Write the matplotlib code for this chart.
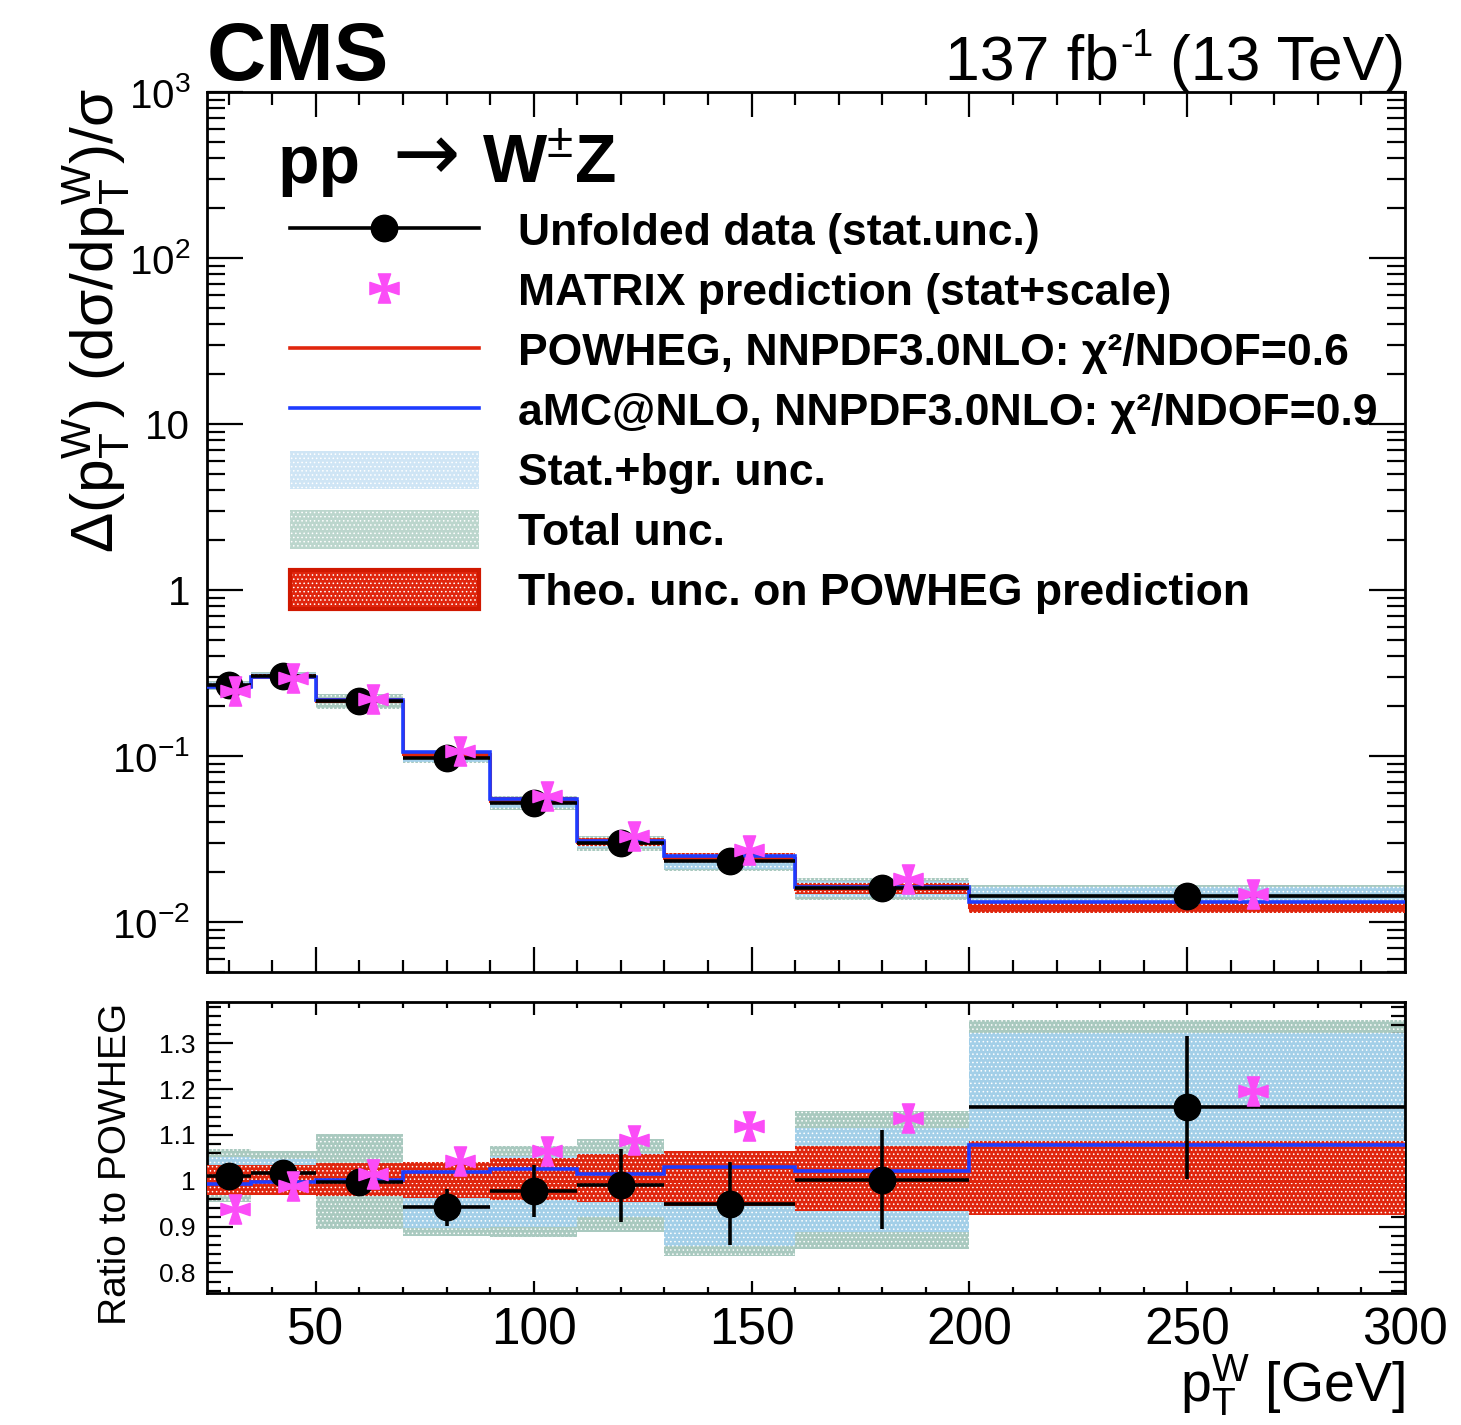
import numpy as np
import matplotlib
matplotlib.use("Agg")
import matplotlib.pyplot as plt
from matplotlib import ticker
from matplotlib.path import Path
from matplotlib.lines import Line2D
from matplotlib.patches import Patch
from matplotlib.legend_handler import HandlerTuple

# Binning in pT(W) [GeV]
bin_edges = [25, 35, 50, 70, 90, 110, 130, 160, 200, 300]

# POWHEG normalised cross section per bin
powheg = [0.264, 0.300, 0.216, 0.103, 0.0537, 0.0302, 0.0244, 0.0159, 0.0123]
# theory uncertainty on POWHEG (relative, up / down)
theo_up = [0.034, 0.034, 0.038, 0.042, 0.050, 0.058, 0.065, 0.075, 0.086]
theo_dn = [0.032, 0.032, 0.034, 0.038, 0.041, 0.047, 0.056, 0.067, 0.074]

# ratios to POWHEG
ratio_data = [1.011, 1.018, 0.998, 0.942, 0.977, 0.990, 0.950, 1.002, 1.160]
ratio_data_stat = [0.010, 0.010, 0.010, 0.040, 0.057, 0.080, 0.090, 0.108, 0.156]
ratio_matrix = [0.939, 0.988, 1.015, 1.043, 1.064, 1.090, 1.120, 1.137, 1.197]
ratio_amc = [0.992, 0.997, 1.002, 1.020, 1.025, 1.015, 1.031, 1.022, 1.077]

# uncertainty bands around the data (ratio units)
unc_stat_bgr = [0.040, 0.030, 0.030, 0.045, 0.077, 0.070, 0.093, 0.113, 0.163]
unc_total = [0.058, 0.047, 0.103, 0.062, 0.099, 0.101, 0.115, 0.151, 0.190]

RED = "#e0260e"
BLUE = "#1e3cff"
MAGENTA = "#fb4cf7"
STAT_COL = "#a3cfe8"
TOT_COL = "#a9c9bf"

plt.rcParams["font.family"] = "Liberation Sans"
plt.rcParams["mathtext.fontset"] = "custom"
plt.rcParams["mathtext.rm"] = "Liberation Sans"
plt.rcParams["mathtext.it"] = "Liberation Sans"
plt.rcParams["mathtext.bf"] = "Liberation Sans:bold"
plt.rcParams["hatch.linewidth"] = 0.6

# maltese-cross marker for MATRIX
c, w = 0.13, 0.42
cross_verts = [(-w, 1), (w, 1), (c, c), (1, w), (1, -w), (c, -c), (w, -1),
               (-w, -1), (-c, -c), (-1, -w), (-1, w), (-c, c), (-w, 1)]
cross_codes = [Path.MOVETO] + [Path.LINETO] * 11 + [Path.CLOSEPOLY]
STAR = Path(cross_verts, cross_codes)

edges = np.array(bin_edges, dtype=float)
widths = np.diff(edges)
centers = edges[:-1] + widths / 2
x_matrix = centers + 0.15 * widths

pw = np.array(powheg)
r_data = np.array(ratio_data)
r_stat = np.array(ratio_data_stat)
r_mat = np.array(ratio_matrix)
r_amc = np.array(ratio_amc)
t_up = np.array(theo_up)
t_dn = np.array(theo_dn)
u_sb = np.array(unc_stat_bgr)
u_tot = np.array(unc_total)


def draw_panel(a, scale):
    # scale = powheg for the absolute panel, ones for the ratio panel
    a.bar(edges[:-1], scale * 2 * u_tot, bottom=scale * (r_data - u_tot),
          width=widths, align="edge", color=TOT_COL, edgecolor="white",
          hatch="....", lw=0, zorder=1)
    a.bar(edges[:-1], scale * 2 * u_sb, bottom=scale * (r_data - u_sb),
          width=widths, align="edge", color=STAT_COL, edgecolor="white",
          hatch="....", lw=0, zorder=2)
    a.bar(edges[:-1], scale * (t_up + t_dn), bottom=scale * (1 - t_dn),
          width=widths, align="edge", color=RED, edgecolor="white",
          hatch="....", lw=0, zorder=3)
    a.stairs(scale * np.ones_like(pw), edges, baseline=None, color=RED,
             lw=2.2, zorder=4)
    a.stairs(scale * r_amc, edges, baseline=None, color=BLUE, lw=2.6, zorder=5)
    a.errorbar(centers, scale * r_data, xerr=widths / 2, yerr=scale * r_stat,
               fmt="o", color="k", ms=19, lw=2.6, capsize=0, zorder=6)
    a.plot(x_matrix, scale * r_mat, ls="none", marker=STAR, ms=21,
           color=MAGENTA, mec=MAGENTA, zorder=7)


fig = plt.figure(figsize=(14.61, 14.25), dpi=100)
ax = fig.add_axes([0.1417, 0.3179, 0.8200, 0.6175])
rax = fig.add_axes([0.1417, 0.0926, 0.8200, 0.2042], sharex=ax)

draw_panel(ax, pw)
draw_panel(rax, np.ones_like(pw))

# upper panel axes
ax.set_yscale("log")
ax.set_xlim(25, 300)
ax.set_ylim(0.005, 1000)
log_labels = {1000: "$10^{3}$", 100: "$10^{2}$", 10: "10", 1: "1",
              0.1: "$10^{-1}$", 0.01: "$10^{-2}$"}
ax.yaxis.set_major_locator(ticker.FixedLocator(list(log_labels.keys())))
ax.yaxis.set_major_formatter(ticker.FixedFormatter(list(log_labels.values())))
ax.yaxis.set_minor_locator(ticker.LogLocator(base=10, subs=np.arange(2, 10), numticks=100))
ax.yaxis.set_minor_formatter(ticker.NullFormatter())
ax.xaxis.set_major_locator(ticker.MultipleLocator(50))
ax.xaxis.set_minor_locator(ticker.MultipleLocator(10))
ax.tick_params(axis="x", labelbottom=False)
ax.tick_params(which="both", direction="in", top=True, right=True, width=1.6)
ax.tick_params(axis="x", which="major", length=18)
ax.tick_params(axis="x", which="minor", length=9)
ax.tick_params(axis="y", which="major", length=26, labelsize=29, pad=12)
ax.tick_params(axis="y", which="minor", length=13)

# ratio panel axes
rax.set_ylim(0.755, 1.39)
rax.yaxis.set_major_locator(ticker.FixedLocator([0.8, 0.9, 1.0, 1.1, 1.2, 1.3]))
rax.yaxis.set_major_formatter(ticker.FuncFormatter(lambda v, p: f"{v:g}"))
rax.yaxis.set_minor_locator(ticker.MultipleLocator(0.02))
rax.tick_params(which="both", direction="in", top=True, right=True, width=1.6)
rax.tick_params(axis="x", which="major", length=9, labelsize=37, pad=10)
rax.tick_params(axis="x", which="minor", length=4.5)
rax.tick_params(axis="y", which="major", length=19, labelsize=19, pad=8)
rax.tick_params(axis="y", which="minor", length=10)

for a in (ax, rax):
    for s in a.spines.values():
        s.set_linewidth(2.0)

# axis titles
fig.text(97 / 1461, 1 - 88 / 1425,
         r"$\Delta$(p$_{T}^{W}$) (d$\sigma$/dp$_{T}^{W}$)/$\sigma$",
         rotation=90, ha="center", va="top", fontsize=43.5)
fig.text(116 / 1461, 1 - 1003 / 1425, "Ratio to POWHEG",
         rotation=90, ha="center", va="top", fontsize=28)
fig.text(1405 / 1461, 1 - 1402 / 1425, r"p$_{T}^{W}$ [GeV]",
         ha="right", va="baseline", fontsize=40)

# header: experiment, luminosity, process
fig.text(207 / 1461, 1 - 80 / 1425, "CMS", ha="left", va="baseline",
         fontsize=59, fontweight="bold")
lumi = fig.text(945 / 1461, 1 - 80 / 1425, "137 fb", ha="left",
                va="baseline", fontsize=45)
ax.annotate("-1", xy=(1, 1), xycoords=lumi, xytext=(1, 4),
            textcoords="offset points", ha="left", va="top", fontsize=27)
fig.text(1405 / 1461, 1 - 80 / 1425, "(13 TeV)", ha="right",
         va="baseline", fontsize=45)
fig.text(278 / 1461, 1 - 183 / 1425, "pp", ha="left", va="baseline",
         fontsize=49, fontweight="bold")
fig.text(392 / 1461, 1 - 180 / 1425, "\u2192", ha="left", va="baseline",
         fontsize=58, family="DejaVu Sans")
fig.text(482 / 1461, 1 - 183 / 1425, r"W$^{\pm}$Z", ha="left",
         va="baseline", fontsize=49, fontweight="bold")

# legend
h_data = Line2D([], [], color="k", lw=2.6, marker="o", ms=19)
h_mat = Line2D([], [], ls="none", marker=STAR, ms=21, color=MAGENTA, mec=MAGENTA)
h_pow = Line2D([], [], color=RED, lw=2.6)
h_amc = Line2D([], [], color=BLUE, lw=2.6)
h_stat = Patch(facecolor="#cfe5f5", edgecolor="white", hatch="....", lw=0)
h_tot = Patch(facecolor="#bcd6cd", edgecolor="white", hatch="....", lw=0)
h_theo = (Patch(facecolor=RED, edgecolor="white", hatch="....", lw=0),
          Patch(fill=False, edgecolor="#d01800", lw=3))
labels = ["Unfolded data (stat.unc.)",
          "MATRIX prediction (stat+scale)",
          "POWHEG, NNPDF3.0NLO: \u03c7\u00b2/NDOF=0.6",
          "aMC@NLO, NNPDF3.0NLO: \u03c7\u00b2/NDOF=0.9",
          "Stat.+bgr. unc.",
          "Total unc.",
          "Theo. unc. on POWHEG prediction"]
fig.legend([h_data, h_mat, h_pow, h_amc, h_stat, h_tot, h_theo], labels,
           loc="upper left", bbox_to_anchor=(290 / 1461, 1 - 211 / 1425),
           frameon=False, borderpad=0, borderaxespad=0,
           prop={"weight": "bold", "size": 32},
           handlelength=4.25, handleheight=0.95, handletextpad=0.88,
           labelspacing=0.37,
           handler_map={tuple: HandlerTuple(ndivide=1, pad=0)})

fig.savefig("out.png", dpi=100)
